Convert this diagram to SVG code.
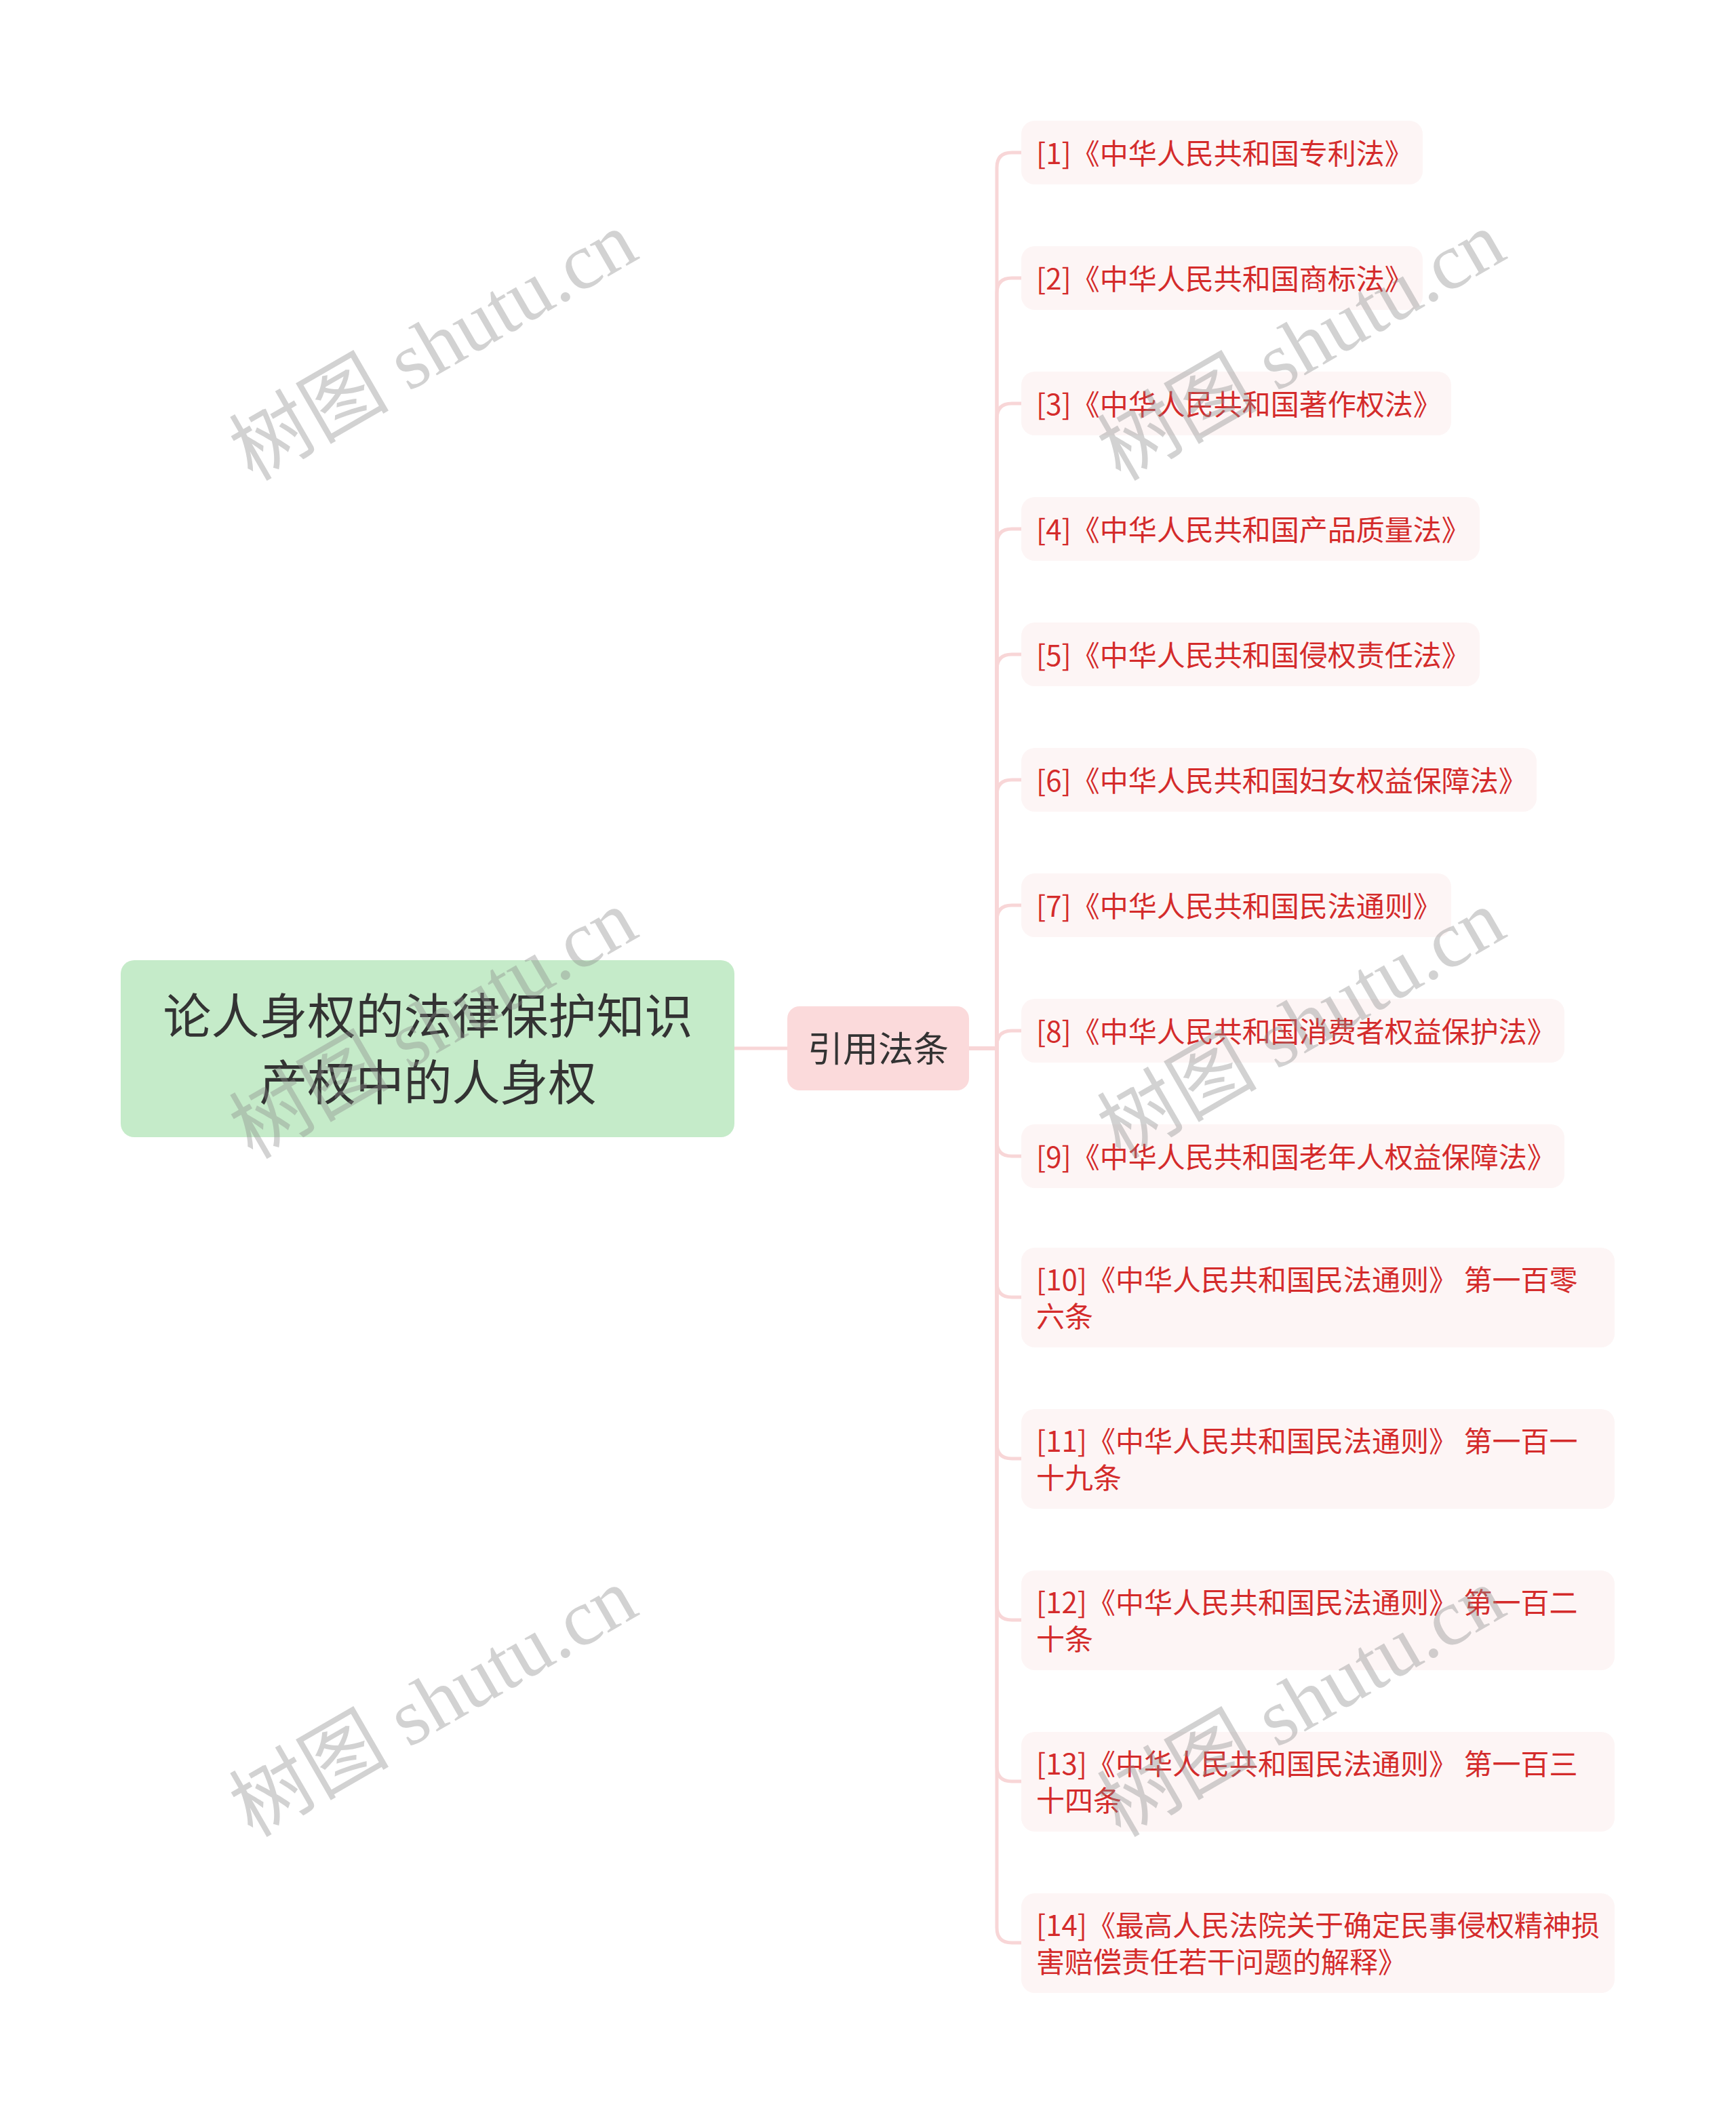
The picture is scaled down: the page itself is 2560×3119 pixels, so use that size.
<svg xmlns="http://www.w3.org/2000/svg" width="2560" height="3119" viewBox="0 0 2560 3119">
<style>
.cjk{font-family:"Noto Sans CJK SC","Noto Sans",sans-serif}
.root-box{fill:#c5ebc9}
.sub-box{fill:#fbdadb}
.leaf-box{fill:#fdf5f5}
.root-t{font-size:71px;fill:#333333;text-anchor:middle}
.sub-t{font-size:52px;fill:#333333;text-anchor:middle}
.leaf-t{font-size:42px;fill:#d42b2b}
.conn{fill:none;stroke:#f8d6d7;stroke-width:5;stroke-linecap:round}
.wm{font-family:"Liberation Serif","Noto Sans CJK SC",serif;font-size:118px;fill:#8a8a8a;opacity:0.38;text-anchor:middle}
</style>
<rect width="2560" height="3119" fill="#ffffff"/>
<g id="connectors">
<path class="conn" d="M1083,1546 H1161"/>
<path class="conn" d="M1428,1546 H1470 V247 Q1470,225 1492,225 H1506"/>
<path class="conn" d="M1428,1546 H1470 V432 Q1470,410 1492,410 H1506"/>
<path class="conn" d="M1428,1546 H1470 V617 Q1470,595 1492,595 H1506"/>
<path class="conn" d="M1428,1546 H1470 V802 Q1470,780 1492,780 H1506"/>
<path class="conn" d="M1428,1546 H1470 V987 Q1470,965 1492,965 H1506"/>
<path class="conn" d="M1428,1546 H1470 V1172 Q1470,1150 1492,1150 H1506"/>
<path class="conn" d="M1428,1546 H1470 V1357 Q1470,1335 1492,1335 H1506"/>
<path class="conn" d="M1428,1546 H1470 V1542 Q1470,1520 1492,1520 H1506"/>
<path class="conn" d="M1428,1546 H1470 V1683 Q1470,1705 1492,1705 H1506"/>
<path class="conn" d="M1428,1546 H1470 V1891 Q1470,1913 1492,1913 H1506"/>
<path class="conn" d="M1428,1546 H1470 V2129 Q1470,2151 1492,2151 H1506"/>
<path class="conn" d="M1428,1546 H1470 V2367 Q1470,2389 1492,2389 H1506"/>
<path class="conn" d="M1428,1546 H1470 V2605 Q1470,2627 1492,2627 H1506"/>
<path class="conn" d="M1428,1546 H1470 V2843 Q1470,2865 1492,2865 H1506"/>
</g>
<g id="root">
<rect class="root-box" x="178" y="1416" width="905" height="261" rx="20"/>
<text class="cjk root-t"><tspan x="631" y="1524">论人身权的法律保护知识</tspan><tspan x="631" y="1622">产权中的人身权</tspan></text>
</g>
<g id="sub">
<rect class="sub-box" x="1161" y="1484" width="268" height="124" rx="18"/>
<text class="cjk sub-t" x="1295" y="1566">引用法条</text>
</g>
<g id="leaf1"><rect class="leaf-box" x="1506" y="178" width="592" height="94" rx="20"/><text class="cjk leaf-t" x="1528" y="242">[1]《中华人民共和国专利法》</text></g>
<g id="leaf2"><rect class="leaf-box" x="1506" y="363" width="592" height="94" rx="20"/><text class="cjk leaf-t" x="1528" y="427">[2]《中华人民共和国商标法》</text></g>
<g id="leaf3"><rect class="leaf-box" x="1506" y="548" width="634" height="94" rx="20"/><text class="cjk leaf-t" x="1528" y="612">[3]《中华人民共和国著作权法》</text></g>
<g id="leaf4"><rect class="leaf-box" x="1506" y="733" width="676" height="94" rx="20"/><text class="cjk leaf-t" x="1528" y="797">[4]《中华人民共和国产品质量法》</text></g>
<g id="leaf5"><rect class="leaf-box" x="1506" y="918" width="676" height="94" rx="20"/><text class="cjk leaf-t" x="1528" y="982">[5]《中华人民共和国侵权责任法》</text></g>
<g id="leaf6"><rect class="leaf-box" x="1506" y="1103" width="760" height="94" rx="20"/><text class="cjk leaf-t" x="1528" y="1167">[6]《中华人民共和国妇女权益保障法》</text></g>
<g id="leaf7"><rect class="leaf-box" x="1506" y="1288" width="634" height="94" rx="20"/><text class="cjk leaf-t" x="1528" y="1352">[7]《中华人民共和国民法通则》</text></g>
<g id="leaf8"><rect class="leaf-box" x="1506" y="1473" width="801" height="94" rx="20"/><text class="cjk leaf-t" x="1528" y="1537">[8]《中华人民共和国消费者权益保护法》</text></g>
<g id="leaf9"><rect class="leaf-box" x="1506" y="1658" width="801" height="94" rx="20"/><text class="cjk leaf-t" x="1528" y="1722">[9]《中华人民共和国老年人权益保障法》</text></g>
<g id="leaf10"><rect class="leaf-box" x="1506" y="1840" width="875" height="147" rx="20"/><text class="cjk leaf-t"><tspan x="1528" y="1903">[10]《中华人民共和国民法通则》 第一百零</tspan><tspan x="1528" y="1957">六条</tspan></text></g>
<g id="leaf11"><rect class="leaf-box" x="1506" y="2078" width="875" height="147" rx="20"/><text class="cjk leaf-t"><tspan x="1528" y="2141">[11]《中华人民共和国民法通则》 第一百一</tspan><tspan x="1528" y="2195">十九条</tspan></text></g>
<g id="leaf12"><rect class="leaf-box" x="1506" y="2316" width="875" height="147" rx="20"/><text class="cjk leaf-t"><tspan x="1528" y="2379">[12]《中华人民共和国民法通则》 第一百二</tspan><tspan x="1528" y="2433">十条</tspan></text></g>
<g id="leaf13"><rect class="leaf-box" x="1506" y="2554" width="875" height="147" rx="20"/><text class="cjk leaf-t"><tspan x="1528" y="2617">[13]《中华人民共和国民法通则》 第一百三</tspan><tspan x="1528" y="2671">十四条</tspan></text></g>
<g id="leaf14"><rect class="leaf-box" x="1506" y="2792" width="875" height="147" rx="20"/><text class="cjk leaf-t"><tspan x="1528" y="2855">[14]《最高人民法院关于确定民事侵权精神损</tspan><tspan x="1528" y="2909">害赔偿责任若干问题的解释》</tspan></text></g>
<g id="watermarks">
<text class="wm" transform="translate(659,545) rotate(-30)">树图 shutu.cn</text>
<text class="wm" transform="translate(1939,545) rotate(-30)">树图 shutu.cn</text>
<text class="wm" transform="translate(659,1545) rotate(-30)">树图 shutu.cn</text>
<text class="wm" transform="translate(1939,1545) rotate(-30)">树图 shutu.cn</text>
<text class="wm" transform="translate(659,2545) rotate(-30)">树图 shutu.cn</text>
<text class="wm" transform="translate(1939,2545) rotate(-30)">树图 shutu.cn</text>
</g>
</svg>
